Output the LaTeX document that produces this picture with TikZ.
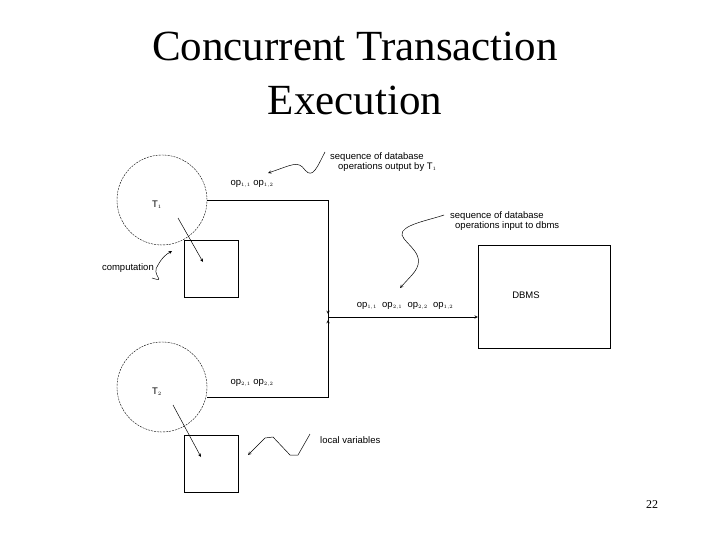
\documentclass[tikz,border=0pt]{standalone}
\usepackage{fontspec}
\setmainfont{Liberation Serif}
\newfontfamily\lab{Liberation Sans}
\begin{document}
\begin{tikzpicture}[x=1pt,y=-1pt,
  lbl/.style={font=\lab\fontsize{9.5}{10.5}\selectfont,inner sep=0pt,align=left},
  ttl/.style={font=\fontsize{43}{46}\selectfont,inner sep=0pt},
  circ/.style={draw,dash pattern=on 2pt off 1pt,circle,minimum size=90pt,inner sep=0pt},
  sq/.style={draw,minimum width=54pt,minimum height=57pt,inner sep=0pt},
  ln/.style={line width=0.6pt},
  arr/.style={-stealth,line width=0.5pt}]
\useasboundingbox (0,0) rectangle (720,540);
\node[ttl] (t1) at (355,46) {Concurrent Transaction};
\node[ttl] (t2) at (355,100) {Execution};
\node[circ] (c1) at (162,200) {};
\node[circ] (c2) at (162,387) {};
\node[sq] (b1) at (211,268.5) {};
\node[sq] (b2) at (211,463.5) {};
\node[draw,minimum width=132pt,minimum height=103pt,inner sep=0pt] (db) at (544,296.5) {};
\node[lbl] (dbl) at (526,295) {DBMS};
\coordinate (j1) at (328,200);
\coordinate (j2) at (328,397);
\coordinate (jm) at (328,317);
\draw[ln] (c1.east) -- (j1) -- (jm);
\draw[ln] (c2.east |- j2) -- (j2) -- (jm);
\draw[arr] (jm) -- (db.west |- jm);
\draw[arr] (328,308) -- (328,314);
\draw[arr] (328,326) -- (328,320);
\node[lbl] (T1) at (157,205) {T$_{\scriptscriptstyle 1}$};
\node[lbl] (T2) at (157,392) {T$_{\scriptscriptstyle 2}$};
\coordinate (a1) at (178,218);
\coordinate (a2) at (173,405);
\draw[arr] (a1) -- (203,262);
\draw[arr] (a2) -- (201,457);
\node[lbl] (o1) at (252,184) {op$_{\scriptscriptstyle 1,1}$ op$_{\scriptscriptstyle 1,2}$};
\node[lbl] (o2) at (252,383) {op$_{\scriptscriptstyle 2,1}$ op$_{\scriptscriptstyle 2,2}$};
\node[lbl] (o3) at (405,306) {op$_{\scriptscriptstyle 1,1}$\ \ op$_{\scriptscriptstyle 2,1}$\ \ op$_{\scriptscriptstyle 2,2}$\ \ op$_{\scriptscriptstyle 1,2}$};
\node[lbl,anchor=west] (s1) at (330,162) {sequence of database\\\hspace{8pt}operations output by T$_{\scriptscriptstyle 1}$};
\node[lbl,anchor=west] (s2) at (450,221) {sequence of database\\\hspace{5pt}operations input to dbms};
\node[lbl,anchor=east] (cp) at (154,268) {computation};
\node[lbl,anchor=west] (lv) at (320,440) {local variables};
\draw[arr] (s1.west) ++(-5,-10) .. controls (318,165) and (313,180) .. (305,170) .. controls (298,160) and (292,165) .. (268,173);
\draw[arr] (s2.west) ++(-6,-6) .. controls (430,220) and (400,225) .. (402,235) .. controls (405,245) and (430,255) .. (412,275) -- (400,288);
\draw[arr] (cp.east) ++(-2,10) .. controls (168,283) and (150,275) .. (158,265) .. controls (162,258) and (165,255) .. (172,251);
\draw[arr] (lv.west) ++(-10,-6) -- (298,455) -- (290,455) -- (273,437) -- (265,438) -- (248,455);
\node[font=\fontsize{12}{14}\selectfont] (pg) at (652,505) {22};
\end{tikzpicture}
\end{document}
